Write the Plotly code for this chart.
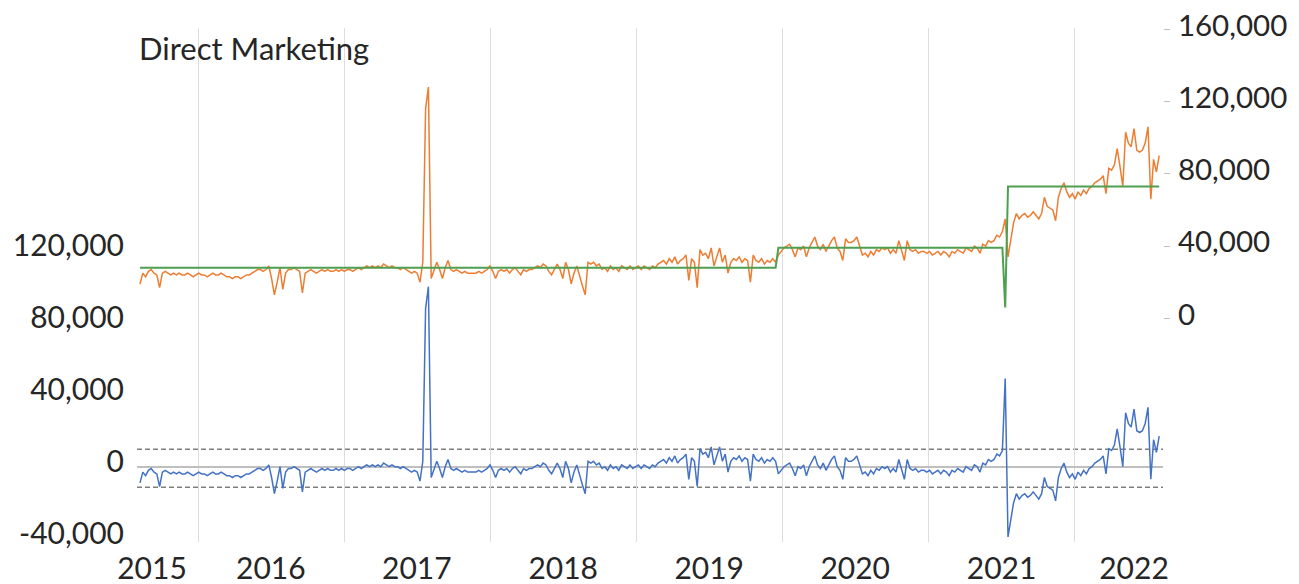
import pandas as pd
import plotly.graph_objects as go

title_text = "Direct Marketing"
start_week = "2015-08-09"

# Weekly actual values (orange line, right axis), in thousands
actual_k = [
    19, 25, 23, 26, 27, 25, 24, 17, 25, 26,
    25, 24, 25, 24, 25, 24, 24, 25, 24, 23,
    24, 25, 24, 24, 23, 24, 25, 24, 24, 25,
    24, 23, 23, 22, 23, 23, 22, 23, 24, 24,
    25, 26, 27, 27, 26, 27, 29, 22, 13, 20,
    28, 16, 25, 27, 27, 28, 27, 26, 14, 25,
    26, 27, 26, 25, 26, 27, 26, 27, 26, 26,
    27, 26, 27, 26, 27, 27, 26, 27, 28, 27,
    28, 29, 28, 29, 28, 29, 28, 30, 29, 28,
    29, 28, 28, 27, 28, 27, 26, 25, 26, 25,
    20, 31, 116, 128, 22, 26, 31, 27, 22, 28,
    32, 27, 26, 27, 26, 25, 26, 25, 25, 25,
    25, 26, 25, 26, 27, 29, 26, 22, 26, 27,
    26, 27, 25, 27, 28, 26, 24, 27, 26, 27,
    27, 28, 29, 28, 30, 29, 26, 24, 27, 30,
    27, 22, 31, 27, 19, 25, 29, 23, 18, 13,
    31, 30, 31, 29, 30, 27, 28, 26, 29, 27,
    28, 26, 29, 28, 27, 29, 27, 28, 29, 27,
    29, 28, 27, 29, 28, 30, 31, 32, 30, 33,
    31, 34, 30, 32, 33, 35, 21, 33, 31, 17,
    38, 35, 36, 33, 39, 29, 34, 39, 31, 35,
    25, 31, 33, 32, 34, 31, 33, 32, 20, 35,
    32, 31, 33, 30, 32, 31, 33, 31,
    35, 37, 39, 40, 41, 38, 34, 39, 38, 40,
    34, 39, 42, 45, 40, 38, 41, 37, 40, 43,
    45, 39, 37, 32, 44, 42, 42, 43, 45, 40,
    35, 36, 34, 37, 35, 38, 37, 39, 38, 39,
    36, 38, 36, 43, 37, 32, 43, 38, 37, 38,
    36, 37, 37, 36, 37, 35, 36, 37, 35, 37,
    36, 34, 37, 36, 38, 37, 36, 39, 38, 37,
    40, 39, 36, 41, 40, 43, 42, 43, 46, 45, 48,
    55,
    34, 43, 53, 58, 55, 57, 58, 56, 57, 59,
    57, 55, 58, 67, 62, 61, 60, 54, 67, 72,
    75, 70, 67, 69, 66, 70, 68, 71, 69, 72,
    73, 75, 76, 77, 79, 69, 83, 82, 85, 94,
    84, 73, 103, 97, 95, 105, 93, 92, 93, 97,
    106, 66, 88, 81, 90,
]

# Baseline (green step line): level and number of weeks it lasts
baseline_levels = [28000, 39000, 6000, 73000]
baseline_weeks = [228, 81, 1, 55]

# Control band around the residual (dashed lines, left axis)
band_upper = 9700
band_lower = -11400

year_labels = ["2015", "2016", "2017", "2018", "2019", "2020", "2021", "2022"]
year_label_dates = ["2015-09-08", "2016-07-01", "2017-07-01", "2018-07-02",
                    "2019-07-02", "2020-07-01", "2021-07-02", "2022-05-29"]
year_starts = ["2016-01-01", "2017-01-01", "2018-01-01", "2019-01-01",
               "2020-01-01", "2021-01-01", "2022-01-01"]

left_tickvals = [-40000, 0, 40000, 80000, 120000]
left_ticktext = ["-40,000", "0", "40,000", "80,000", "120,000"]
right_tickvals = [0, 40000, 80000, 120000, 160000]
right_ticktext = ["0", "40,000", "80,000", "120,000", "160,000"]

# ---- build series ----
dates = pd.date_range(start_week, periods=len(actual_k), freq="7D")
actual = [v * 1000 for v in actual_k]
baseline = []
for lvl, n in zip(baseline_levels, baseline_weeks):
    baseline += [lvl] * n
residual = [a - b for a, b in zip(actual, baseline)]  # actual minus baseline

BLUE = "#4472C4"
ORANGE = "#ED7D31"
GREEN = "#4E9F50"
TEXT = "#262626"
FONT = "Lato"

fig = go.Figure()
fig.add_trace(go.Scatter(x=dates, y=residual, mode="lines", yaxis="y",
                         line=dict(color=BLUE, width=1.5), name="Residual"))
fig.add_trace(go.Scatter(x=dates, y=actual, mode="lines", yaxis="y2",
                         line=dict(color=ORANGE, width=1.5), name="Actual"))
fig.add_trace(go.Scatter(x=dates, y=baseline, mode="lines", yaxis="y2",
                         line=dict(color=GREEN, width=2), name="Baseline"))

for v in (band_upper, band_lower):
    fig.add_shape(type="line", xref="paper", x0=0, x1=1, yref="y", y0=v, y1=v,
                  line=dict(color="#7F7F7F", width=1.5, dash="5px,3px"),
                  layer="between")

fig.add_annotation(text=title_text, xref="paper", yref="paper", x=0, y=0.961,
                   xanchor="left", yanchor="middle", showarrow=False,
                   font=dict(family=FONT, size=31, color=TEXT))

fig.update_layout(
    width=1291, height=576,
    margin=dict(l=129, r=136, t=20, b=42),
    paper_bgcolor="white", plot_bgcolor="white",
    showlegend=False,
    font=dict(family=FONT, size=30, color=TEXT),
    xaxis=dict(
        type="date", range=["2015-08-01 12:00", "2022-08-09 12:00"],
        tickmode="array", tickvals=year_label_dates, ticktext=year_labels,
        showgrid=False, zeroline=False, showline=False, ticks="",
        ticklabelstandoff=6, automargin=False, ticklabeloverflow="allow",
        minor=dict(tickmode="array", tickvals=year_starts, showgrid=True,
                   gridcolor="#DDDDDD", gridwidth=1, ticks=""),
    ),
    yaxis=dict(
        range=[-41833, 243722], tickmode="array",
        tickvals=left_tickvals, ticktext=left_ticktext,
        showgrid=False, zeroline=True, zerolinecolor="#BFBFBF", zerolinewidth=1.5,
        showline=False, ticks="", ticklabelstandoff=12, ticklabelshift=-5,
        automargin=False, ticklabeloverflow="allow",
    ),
    yaxis2=dict(
        overlaying="y", side="right", range=[-123848, 160720],
        tickmode="array", tickvals=right_tickvals, ticktext=right_ticktext,
        showgrid=False, zeroline=False, showline=False,
        ticks="outside", ticklen=6, tickcolor="#BFBFBF", tickwidth=1,
        ticklabelstandoff=2, ticklabelshift=-4, automargin=False,
        ticklabeloverflow="allow", tickfont=dict(size=29.5),
    ),
)

fig.write_html("out.html")
